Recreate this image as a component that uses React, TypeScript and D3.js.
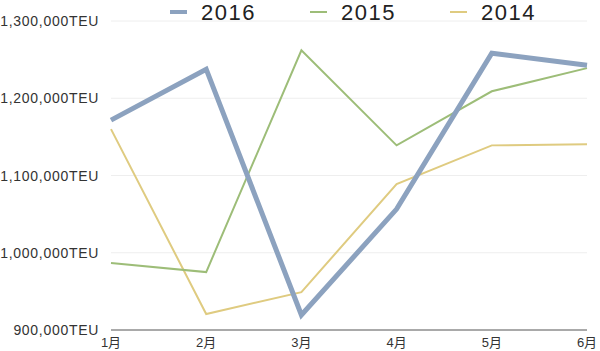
import React from 'react';
import * as d3 from 'd3';

const months = ['1月', '2月', '3月', '4月', '5月', '6月'];
const seriesNames = ['2016', '2015', '2014'];
const teu2016 = [1171700, 1237600, 919400, 1056500, 1258300, 1242800];
const teu2015 = [986700, 975000, 1262000, 1139000, 1209000, 1239000];
const teu2014 = [1160000, 920700, 949000, 1089000, 1139000, 1140600];
const yTicks = [900000, 1000000, 1100000, 1200000, 1300000];

const width = 600;
const height = 351;
const margin = { top: 21, right: 13, bottom: 21, left: 111 };
const colors = ['#8CA2BF', '#9DBD78', '#DFCB80'];
const strokes = [5, 2, 2];
const font = '"Liberation Sans", "Noto Sans CJK JP", sans-serif';

const App = () => {
  const x = d3.scalePoint<string>().domain(months).range([margin.left, width - margin.right]);
  const y = d3.scaleLinear().domain([900000, 1300000]).range([height - margin.bottom, margin.top]);
  const line = d3.line<number>().x((_, i) => x(months[i])!).y(d => y(d));
  const data = [teu2016, teu2015, teu2014];
  const fmt = d3.format(',');
  const legendX = [170, 310, 450];

  return (
    <svg width={width} height={height} style={{ position: 'absolute', left: 0, top: 0 }}>
      {/* grid */}
      {yTicks.map(t => (
        <g key={t}>
          {t > 900000 && (
            <line x1={margin.left} x2={width - margin.right} y1={y(t)} y2={y(t)} stroke="#eeeeee" strokeWidth={1} />
          )}
          <text x={99} y={y(t)} dy="0.36em" textAnchor="end" fontSize={14} letterSpacing={0.7} fill="#333" fontFamily={font}>
            {fmt(t)}TEU
          </text>
        </g>
      ))}
      <line x1={margin.left} x2={width - margin.right} y1={y(900000)} y2={y(900000)} stroke="#555" strokeWidth={1} />
      {months.map(m => (
        <text key={m} x={x(m)} y={height - 4} textAnchor="middle" fontSize={13} fill="#333" fontFamily={font}>
          {m}
        </text>
      ))}

      {/* lines, 2014 at the back */}
      {[2, 1, 0].map(i => (
        <path key={i} d={line(data[i]) ?? ''} fill="none" stroke={colors[i]} strokeWidth={strokes[i]} strokeLinejoin="miter" />
      ))}

      {/* legend */}
      {seriesNames.map((s, i) => (
        <g key={s} transform={`translate(${legendX[i]},12)`}>
          <line x1={0} x2={17} y1={0} y2={0} stroke={colors[i]} strokeWidth={i === 0 ? 4 : 2} />
          <text x={31} y={8} fontSize={22} letterSpacing={1.5} fill="#222" fontFamily={font}>{s}</text>
        </g>
      ))}
    </svg>
  );
};

export default App;
